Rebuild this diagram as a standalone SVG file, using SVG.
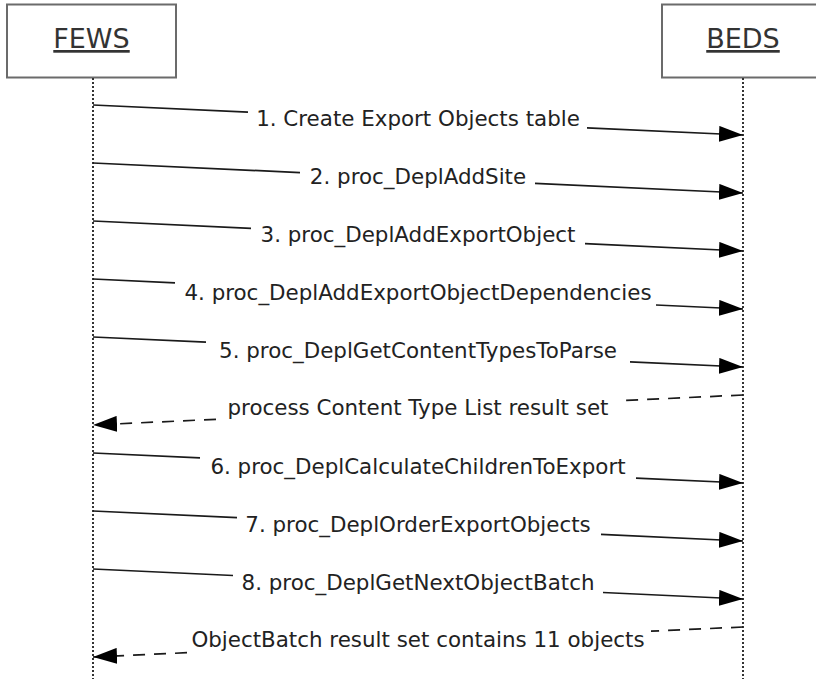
<svg xmlns="http://www.w3.org/2000/svg" width="816" height="679" viewBox="0 0 816 679">
  <style>
    .box { fill: #ffffff; stroke: #6b6b6b; stroke-width: 2; }
    .title { font-family: Verdana, "DejaVu Sans", sans-serif; font-size: 27px; fill: #333333; text-anchor: middle; text-decoration: underline; }
    .life { stroke: #333333; stroke-width: 2; stroke-dasharray: 2 2; fill: none; }
    .msg { stroke: #1a1a1a; stroke-width: 1.7; fill: none; marker-end: url(#arrow); }
    .ret { stroke: #1a1a1a; stroke-width: 1.7; fill: none; stroke-dasharray: 12 9; marker-end: url(#arrow); }
    .lbl { font-family: Verdana, "DejaVu Sans", sans-serif; font-size: 21.4px; fill: #222222; text-anchor: middle; }
  </style>
  <defs>
    <marker id="arrow" markerUnits="userSpaceOnUse" viewBox="0 0 24 16" refX="24" refY="8" markerWidth="24" markerHeight="16" orient="auto">
      <path d="M0,0 L24,8 L0,16 Z" fill="#000000"/>
    </marker>
  </defs>
  <rect width="816" height="679" fill="#ffffff"/>

  <g id="node-fews">
    <rect class="box" x="7" y="4.5" width="169" height="73"/>
    <text class="title" x="91.5" y="48">FEWS</text>
    <line class="life" x1="93" y1="78" x2="93" y2="679"/>
  </g>
  <g id="node-beds">
    <rect class="box" x="662" y="4.5" width="170" height="73"/>
    <text class="title" x="743" y="48">BEDS</text>
    <line class="life" x1="743" y1="78" x2="743" y2="679"/>
  </g>

  <g id="connectors">
    <g id="m1">
      <path class="msg" d="M93,105 L248,112.2 M587,127.8 L743,135"/>
      <text class="lbl" x="418" y="126">1. Create Export Objects table</text>
    </g>
    <g id="m2">
      <path class="msg" d="M93,163 L300,172.6 M535,183.4 L743,193"/>
      <text class="lbl" x="418" y="184">2. proc_DeplAddSite</text>
    </g>
    <g id="m3">
      <path class="msg" d="M93,221 L251,228.3 M585,243.7 L743,251"/>
      <text class="lbl" x="418" y="242">3. proc_DeplAddExportObject</text>
    </g>
    <g id="m4">
      <path class="msg" d="M93,279 L175,282.8 M656,305 L743,309"/>
      <text class="lbl" x="418" y="300">4. proc_DeplAddExportObjectDependencies</text>
    </g>
    <g id="m5">
      <path class="msg" d="M93,337 L206,342.2 M630,361.8 L743,367"/>
      <text class="lbl" x="418" y="358">5. proc_DeplGetContentTypesToParse</text>
    </g>
    <g id="r1">
      <path class="ret" d="M743,395 L618,400.8 M216,419.3 L93,425"/>
      <text class="lbl" x="418" y="414.5">process Content Type List result set</text>
    </g>
    <g id="m6">
      <path class="msg" d="M93,453 L200,457.9 M636,478.1 L743,483"/>
      <text class="lbl" x="418" y="474">6. proc_DeplCalculateChildrenToExport</text>
    </g>
    <g id="m7">
      <path class="msg" d="M93,511 L237,517.6 M601,534.4 L743,541"/>
      <text class="lbl" x="418" y="532">7. proc_DeplOrderExportObjects</text>
    </g>
    <g id="m8">
      <path class="msg" d="M93,569 L233,575.5 M603,592.5 L743,599"/>
      <text class="lbl" x="418" y="590">8. proc_DeplGetNextObjectBatch</text>
    </g>
    <g id="r2">
      <path class="ret" d="M743,627 L651,631.2 M187,652.7 L93,657"/>
      <text class="lbl" x="418" y="646.5">ObjectBatch result set contains 11 objects</text>
    </g>
  </g>
</svg>
